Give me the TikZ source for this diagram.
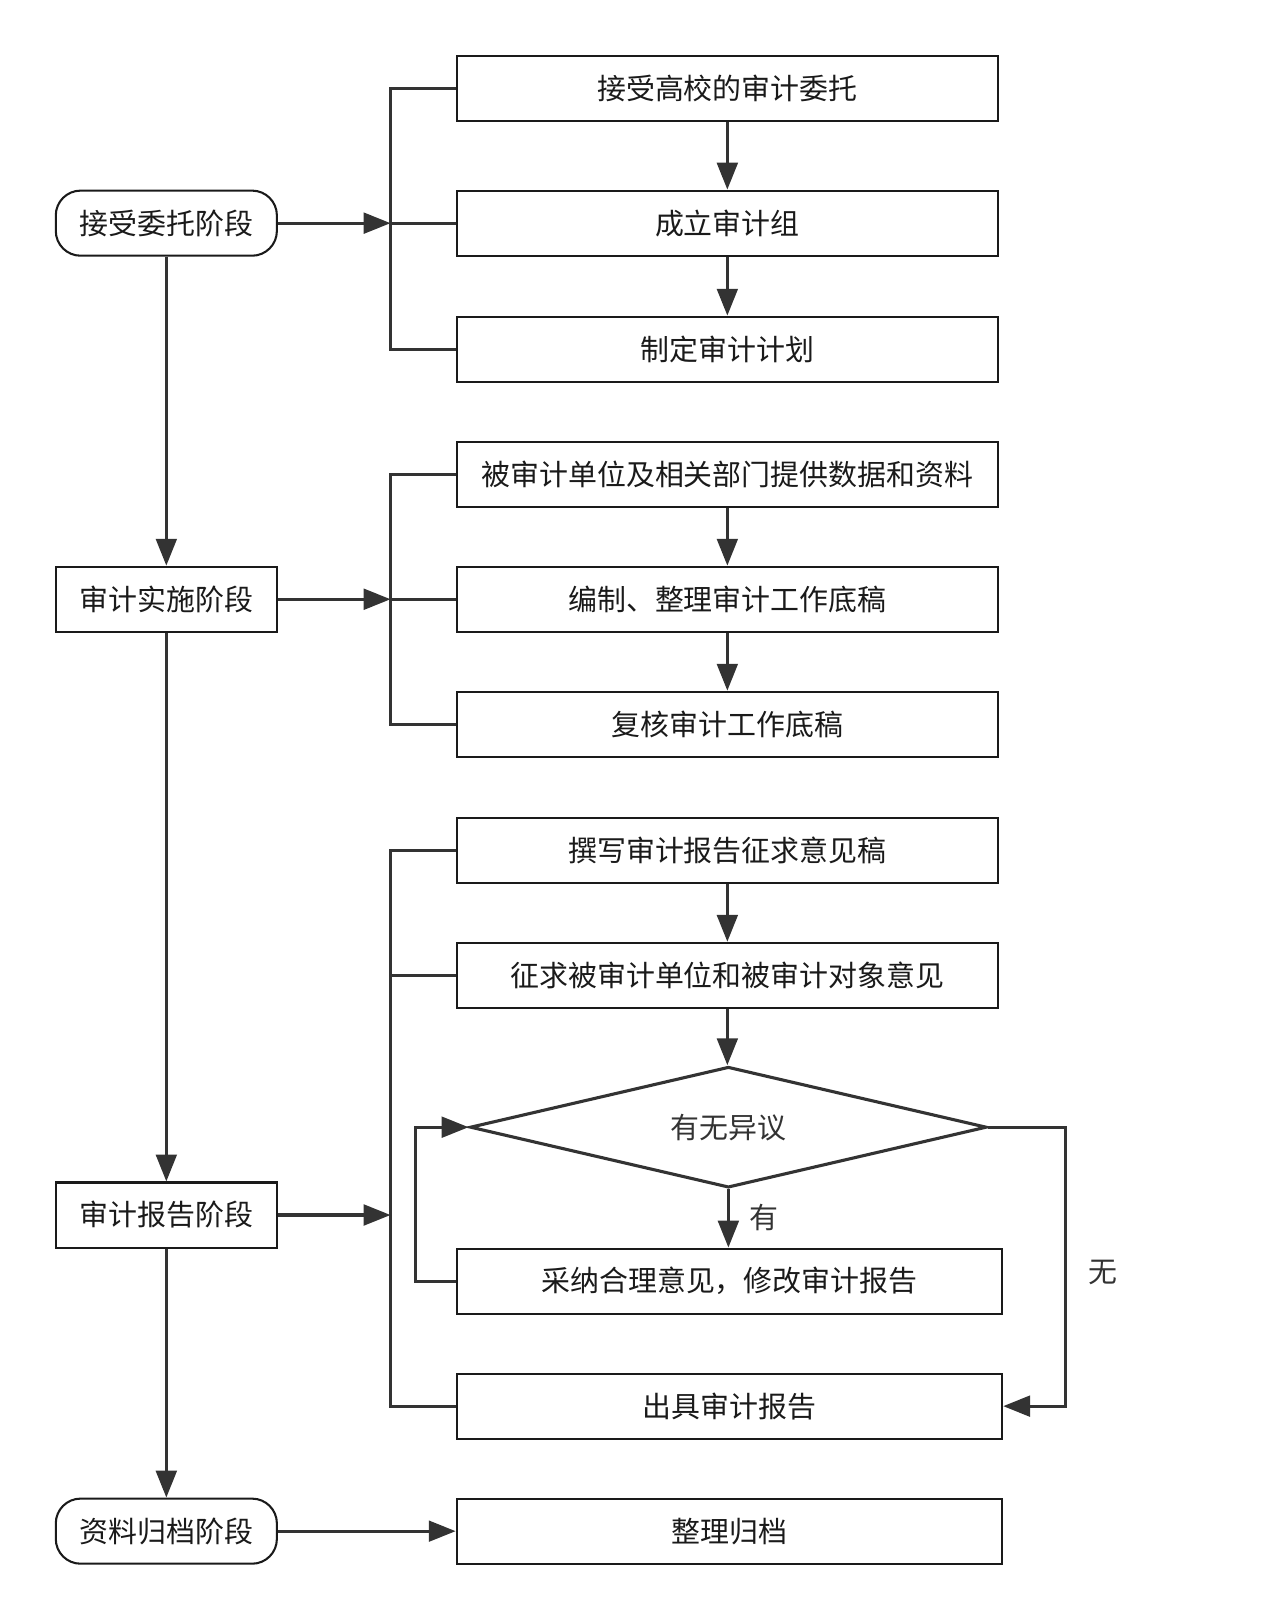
\documentclass[tikz,border=0pt]{standalone}
\usepackage{fontspec}
\setmainfont{Noto Sans CJK SC}
\usetikzlibrary{arrows.meta,shapes.geometric}
\definecolor{lc}{HTML}{333333}
\definecolor{tc}{HTML}{1A1A1A}
\begin{document}
\begin{tikzpicture}[x=1pt,y=-1pt,
  every node/.style={font=\fontsize{28}{33}\selectfont, text=tc},
  box/.style={draw=tc, line width=2pt, rectangle, minimum width=524pt, minimum height=63pt, inner sep=0pt},
  wbox/.style={box, minimum width=528pt},
  stage/.style={draw=tc, line width=2pt, rectangle, minimum width=214pt, minimum height=63pt, inner sep=0pt},
  rstage/.style={stage, rounded corners=24pt},
  conn/.style={draw=lc, line width=3pt},
  arr/.style={conn, -{Triangle[length=26pt,width=20pt]}},
  lab/.style={text=lc}
]
\useasboundingbox (0,0) rectangle (1230,1568);
% left column
\node[rstage] (p1) at (161,216) {接受委托阶段};
\node[stage]  (p2) at (161,580) {审计实施阶段};
\node[stage]  (p3) at (161,1176) {审计报告阶段};
\node[rstage] (p4) at (161,1482) {资料归档阶段};
% right column
\node[box] (b1) at (704,86) {接受高校的审计委托};
\node[box] (b2) at (704,216) {成立审计组};
\node[box] (b3) at (704,338) {制定审计计划};
\node[box] (b4) at (704,459) {被审计单位及相关部门提供数据和资料};
\node[box] (b5) at (704,580) {编制、整理审计工作底稿};
\node[box] (b6) at (704,701) {复核审计工作底稿};
\node[box] (b7) at (704,823) {撰写审计报告征求意见稿};
\node[box] (b8) at (704,944) {征求被审计单位和被审计对象意见};
\node[draw=lc, line width=3pt, diamond, aspect=4.27, minimum width=500pt, minimum height=117pt, inner sep=0pt, text=lc] (d) at (705,1091) {有无异议};
\node[wbox] (b9) at (706,1240) {采纳合理意见，修改审计报告};
\node[wbox] (b10) at (706,1361) {出具审计报告};
\node[wbox] (b11) at (706,1482) {整理归档};
% junctions
\coordinate (j1) at (378,216);
\coordinate (j2) at (378,580);
\coordinate (j3) at (378,1176);
% stage arrows
\draw[arr] (p1.south) -- (p2.north);
\draw[arr] (p2.south) -- (p3.north);
\draw[arr] (p3.south) -- (p4.north);
% brackets
\draw[conn] (b1.west) -| (j1) |- (b3.west);
\draw[conn] (j1) -- (b2.west);
\draw[arr] (p1.east) -- (j1);
\draw[conn] (b4.west) -| (j2) |- (b6.west);
\draw[conn] (j2) -- (b5.west);
\draw[arr] (p2.east) -- (j2);
\draw[conn] (b7.west) -| (j3) |- (b10.west);
\draw[conn] (j3 |- b8.west) -- (b8.west);
\draw[arr] (p3.east) -- (j3);
% vertical flow
\draw[arr] (b1.south) -- (b2.north);
\draw[arr] (b2.south) -- (b3.north);
\draw[arr] (b4.south) -- (b5.north);
\draw[arr] (b5.south) -- (b6.north);
\draw[arr] (b7.south) -- (b8.north);
\draw[arr] (b8.south) -- (b8.south |- d.north);
\draw[arr] (d.south) -- (d.south |- b9.north);
\node[lab, anchor=west] (lyes) at (722,1178) {有};
% loop back
\draw[arr] (b9.west) -- ++(-39,0) |- (d.west);
% no branch
\draw[arr] (d.east) -- ++(75,0) |- (b10.east);
\node[lab] (lno) at (1068,1232) {无};
% archive
\draw[arr] (p4.east) -- (b11.west);
\end{tikzpicture}
\end{document}
